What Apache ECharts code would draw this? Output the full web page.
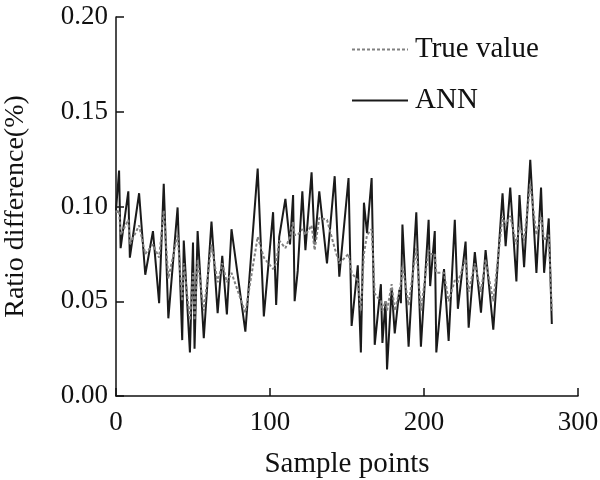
<!DOCTYPE html>
<html>
<head>
<meta charset="utf-8">
<script src="https://cdn.jsdelivr.net/npm/echarts@6/dist/echarts.min.js"></script>
<style>
  html, body { margin: 0; padding: 0; background: #fff; }
  #chart { width: 600px; height: 480px; }
</style>
</head>
<body>
<div id="chart"></div>
<script>
// sample index of each vertex
const samples = [0, 2, 3, 8, 9, 15, 19, 24, 28, 31, 34, 40, 43, 44, 48, 50, 51, 53, 57, 62,
  66, 69, 72, 75, 84, 92, 96, 102, 104, 106, 110, 113, 115, 116, 118, 121, 123, 127, 129, 132,
  137, 142, 145, 151, 153, 157, 159, 161, 163, 166, 168, 172, 173, 175, 176, 179, 181, 184, 185, 186,
  190, 195, 198, 203, 204, 207, 208, 213, 216, 220, 222, 227, 229, 233, 237, 240, 245, 251, 253, 256,
  260, 262, 265, 269, 273, 276, 278, 281, 283];

const annValues = [0.098, 0.119, 0.078, 0.108, 0.073, 0.107, 0.064, 0.087, 0.049, 0.112, 0.041, 0.0995, 0.0295, 0.082, 0.023, 0.081, 0.025, 0.087, 0.0305, 0.092,
  0.0437, 0.074, 0.043, 0.088, 0.034, 0.120, 0.042, 0.097, 0.048, 0.084, 0.104, 0.080, 0.106, 0.050, 0.066, 0.108, 0.077, 0.118, 0.080, 0.108,
  0.070, 0.116, 0.063, 0.115, 0.037, 0.069, 0.023, 0.102, 0.086, 0.115, 0.027, 0.059, 0.028, 0.050, 0.014, 0.057, 0.033, 0.056, 0.049, 0.0905,
  0.026, 0.097, 0.026, 0.093, 0.058, 0.087, 0.023, 0.067, 0.029, 0.093, 0.046, 0.0815, 0.036, 0.076, 0.044, 0.077, 0.035, 0.107, 0.079, 0.110,
  0.0605, 0.106, 0.068, 0.1247, 0.065, 0.110, 0.065, 0.0937, 0.038];

const trueValues = [0.097, 0.098, 0.085, 0.093, 0.080, 0.090, 0.075, 0.080, 0.073, 0.098, 0.062, 0.085, 0.050, 0.070, 0.040, 0.065, 0.040, 0.072, 0.045, 0.080,
  0.060, 0.070, 0.060, 0.065, 0.044, 0.084, 0.073, 0.067, 0.070, 0.082, 0.078, 0.084, 0.092, 0.085, 0.085, 0.088, 0.085, 0.090, 0.077, 0.094,
  0.093, 0.078, 0.070, 0.075, 0.065, 0.061, 0.045, 0.075, 0.085, 0.088, 0.054, 0.050, 0.045, 0.050, 0.045, 0.059, 0.045, 0.055, 0.060, 0.069,
  0.048, 0.078, 0.045, 0.077, 0.075, 0.075, 0.065, 0.065, 0.050, 0.061, 0.060, 0.072, 0.055, 0.070, 0.055, 0.072, 0.050, 0.095, 0.090, 0.095,
  0.080, 0.090, 0.082, 0.112, 0.085, 0.095, 0.082, 0.085, 0.045];

const xTicks = [0, 100, 200, 300];
const yTicks = [0, 0.05, 0.10, 0.15, 0.20];

const font = 'Liberation Serif';
const chart = echarts.init(document.getElementById('chart'));

chart.setOption({
  animation: false,
  grid: { left: 116, right: 22, top: 17, bottom: 84, containLabel: false, outerBoundsMode: 'none' },
  legend: {
    orient: 'vertical',
    left: 346,
    top: 30,
    itemWidth: 56,
    itemHeight: 14,
    itemGap: 22,
    itemStyle: { opacity: 0 },
    textStyle: { fontFamily: font, fontSize: 29, color: '#111', padding: [0, 0, 0, 2] },
    data: ['True value', 'ANN']
  },
  xAxis: {
    type: 'value',
    min: xTicks[0],
    max: xTicks[xTicks.length - 1],
    interval: 100,
    name: 'Sample points',
    nameLocation: 'middle',
    nameGap: 54,
    nameTextStyle: { fontFamily: font, fontSize: 29, color: '#111' },
    axisLine: { lineStyle: { color: '#111', width: 1.5 } },
    axisTick: { inside: true, length: 8, lineStyle: { color: '#111', width: 1.5 } },
    axisLabel: { fontFamily: font, fontSize: 27, color: '#111', margin: 13 },
    splitLine: { show: false }
  },
  yAxis: {
    type: 'value',
    min: yTicks[0],
    max: yTicks[yTicks.length - 1],
    interval: 0.05,
    name: 'Ratio difference(%)',
    nameLocation: 'middle',
    nameGap: 86,
    nameTextStyle: { fontFamily: font, fontSize: 28, color: '#111' },
    axisLine: { show: true, lineStyle: { color: '#111', width: 1.5 } },
    axisTick: { show: true, inside: true, length: 8, lineStyle: { color: '#111', width: 1.5 } },
    axisLabel: {
      fontFamily: font, fontSize: 27, color: '#111', margin: 8,
      formatter: v => v.toFixed(2)
    },
    splitLine: { show: false }
  },
  series: [
    {
      name: 'True value',
      type: 'line',
      symbol: 'none',
      z: 3,
      lineStyle: { color: '#808080', width: 2, type: [3, 2] },
      itemStyle: { color: '#808080' },
      data: samples.map((s, i) => [s, trueValues[i]])
    },
    {
      name: 'ANN',
      type: 'line',
      symbol: 'none',
      z: 2,
      lineStyle: { color: '#1a1a1a', width: 2 },
      itemStyle: { color: '#1a1a1a' },
      data: samples.map((s, i) => [s, annValues[i]])
    }
  ]
});
</script>
</body>
</html>
